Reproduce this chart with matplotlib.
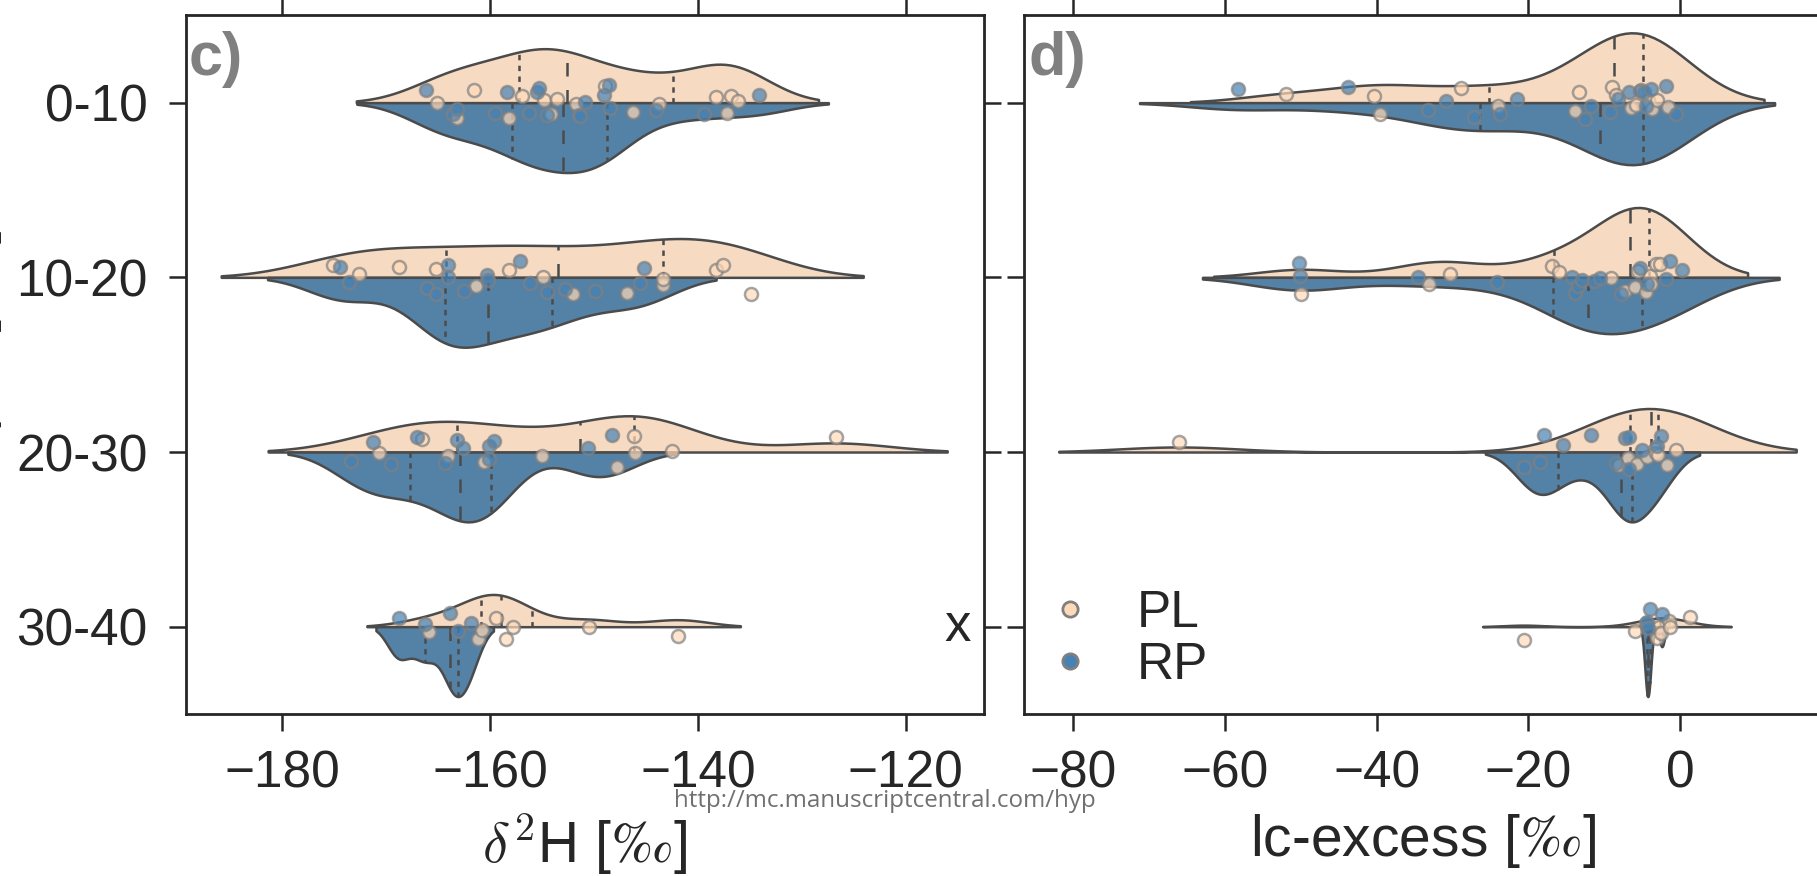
import numpy as np
import colorsys
import matplotlib
matplotlib.use("Agg")
import matplotlib.pyplot as plt
from matplotlib.colors import to_rgb
from matplotlib.lines import Line2D

plt.rcParams['font.family'] = ['Liberation Sans', 'DejaVu Sans']
plt.rcParams['mathtext.fontset'] = 'cm'

# ---------------- data ----------------
categories = ['0-10', '10-20', '20-30', '30-40']
groups = ['PL', 'RP']

d2h_PL = [
    [-165.1, -163.2, -161.6, -158.2, -156.9, -154.8, -154.2, -153.6, -151.7, -149.0,
     -146.3, -143.8, -138.3, -137.2, -136.8, -136.2],
    [-175.1, -172.6, -168.8, -165.2, -161.4, -158.2, -154.9, -152.0, -146.8, -143.4,
     -143.4, -138.3, -137.6, -134.9],
    [-170.7, -166.6, -164.1, -160.6, -155.0, -147.8, -146.2, -146.1, -142.5, -126.7],
    [-165.9, -161.2, -160.8, -159.4, -158.5, -157.8, -150.5, -141.9],
]
d2h_RP = [
    [-166.2, -163.6, -163.2, -159.5, -158.4, -156.3, -155.5, -155.3, -154.5, -151.5,
     -151.4, -150.9, -149.1, -148.6, -148.5, -144.0, -139.4, -134.1],
    [-174.5, -173.6, -166.1, -165.2, -164.1, -164.1, -162.5, -160.3, -160.2, -157.1,
     -156.2, -154.5, -152.8, -149.9, -145.6, -145.2],
    [-173.4, -171.3, -169.6, -167.1, -164.4, -163.2, -162.6, -160.1, -160.1, -159.6,
     -150.6, -148.3],
    [-168.8, -166.3, -163.9, -163.1, -161.9],
]
lcx_PL = [
    [-51.9, -40.3, -39.5, -28.9, -24.0, -13.9, -13.3, -9.0, -8.4, -6.5, -5.8, -5.1,
     -4.2, -3.7, -3.0, -1.6],
    [-50.0, -33.1, -30.3, -16.9, -16.0, -9.1, -7.2, -6.0, -5.5, -4.5, -4.0, -3.8,
     -3.2, -2.6],
    [-66.1, -8.0, -6.9, -5.7, -4.3, -3.3, -3.2, -2.9, -1.7, -0.5],
    [-20.6, -5.9, -3.0, -2.8, -2.5, -1.5, -1.3, 1.3],
]
lcx_RP = [
    [-58.3, -43.8, -33.2, -30.8, -27.2, -23.8, -21.5, -12.5, -11.7, -9.3, -8.2, -6.8,
     -5.3, -4.7, -4.5, -3.8, -1.8, -0.5],
    [-50.2, -50.1, -34.5, -24.2, -14.2, -13.8, -13.4, -12.9, -11.4, -10.6, -7.8, -5.3,
     -4.4, -1.9, -1.3, 0.3],
    [-20.6, -18.5, -18.0, -15.5, -11.8, -8.4, -7.2, -6.8, -6.8, -5.0, -3.0, -2.5],
    [-4.5, -4.3, -4.2, -4.0, -2.4],
]

d2h_ticks = [-180, -160, -140, -120]
lcx_ticks = [-80, -60, -40, -20, 0]

# ---------------- styling ----------------
base_colors = ['peachpuff', 'steelblue']


def desaturate(c, prop):
    h, l, s = colorsys.rgb_to_hls(*to_rgb(c))
    return colorsys.hls_to_rgb(h, l, s * prop)


fill_colors = [desaturate(c, 0.75) for c in base_colors]
lum = min(colorsys.rgb_to_hls(*c)[1] for c in fill_colors) * 0.6
line_gray = (lum, lum, lum)
LW = 1.8
BW = 0.4
CUT = 2
HALF = 0.4


def kde(values):
    v = np.asarray(values, float)
    bw = BW * v.std(ddof=1)
    grid = np.linspace(v.min() - CUT * bw, v.max() + CUT * bw, 100)
    z = (grid[:, None] - v[None, :]) / bw
    dens = np.exp(-0.5 * z ** 2).sum(1) / (len(v) * bw * np.sqrt(2 * np.pi))
    return grid, dens


def draw_panel(ax, pl_sets, rp_sets, seed):
    rng = np.random.default_rng(seed)
    for i, (pl, rp) in enumerate(zip(pl_sets, rp_sets)):
        g1, d1 = kde(pl)
        g2, d2 = kde(rp)
        sc = HALF / max(d1.max(), d2.max())
        d1 = d1 * sc
        d2 = d2 * sc
        ax.fill_between(g1, i - d1, i, facecolor=fill_colors[0], edgecolor=line_gray,
                        linewidth=LW, zorder=1)
        ax.fill_between(g2, i, i + d2, facecolor=fill_colors[1], edgecolor=line_gray,
                        linewidth=LW, zorder=1)
        for vals, g, d, sign in ((pl, g1, d1, -1), (rp, g2, d2, 1)):
            q = np.percentile(vals, [25, 50, 75])
            for k, qv in enumerate(q):
                h = d[np.abs(g - qv).argmin()]
                dash = [LW * 3] * 2 if k == 1 else [LW * 1.2] * 2
                ax.plot([qv, qv], [i, i + sign * h], color=line_gray, lw=LW,
                        dashes=dash, zorder=2)
    for j, sets in enumerate((pl_sets, rp_sets)):
        for i, vals in enumerate(sets):
            jit = rng.uniform(-0.1, 0.1, len(vals))
            ax.scatter(vals, i + jit, s=88, facecolor=base_colors[j], edgecolor='gray',
                       linewidth=1.8, alpha=0.7, zorder=3)


fig = plt.figure(figsize=(18.17, 8.76), dpi=100)
ax1 = fig.add_axes([0.1023, 0.1849, 0.4391, 0.7976])
ax2 = fig.add_axes([0.5635, 0.1849, 0.4391, 0.7976])

draw_panel(ax1, d2h_PL, d2h_RP, 1)
draw_panel(ax2, lcx_PL, lcx_RP, 2)

spine_col = '#262626'
for ax in (ax1, ax2):
    ax.set_ylim(3.5, -0.5)
    ax.set_yticks(range(len(categories)))
    for s in ax.spines.values():
        s.set_color(spine_col)
        s.set_linewidth(2.0)
    ax.tick_params(axis='both', direction='out', length=12, width=1.8, color=spine_col,
                   labelsize=37, labelcolor='#262626', top=True, right=True)
    ax.tick_params(axis='x', pad=13.5)
    ax.tick_params(axis='y', pad=15.5)

ax1.set_yticklabels(categories)
ax2.tick_params(labelleft=False)

ax1.set_xlim(-189.3, -112.5)
ax1.set_xticks(d2h_ticks)
ax2.set_xlim(-86.5, 18.67)
ax2.set_xticks(lcx_ticks)

ax1.set_xlabel(r'$\delta^2$H [$\perthousand$]', fontsize=41, labelpad=10, color='#262626')
ax2.set_xlabel(r'lc-excess [$\perthousand$]', fontsize=41, labelpad=10, color='#262626')
ax1.set_ylabel('Depth [cm]', fontsize=41, color='#262626')
ax1.yaxis.set_label_coords(-0.2304, 0.5)

ax1.text(0.004, 0.9153, 'c)', transform=ax1.transAxes, fontsize=44, fontweight='bold',
         color='#808080', ha='left', va='baseline')
ax2.text(0.0053, 0.9153, 'd)', transform=ax2.transAxes, fontsize=44, fontweight='bold',
         color='#808080', ha='left', va='baseline')
ax1.text(-115.0, 3, 'x', fontsize=38, color='#262626', ha='center', va='center')

handles = [Line2D([], [], ls='', marker='o', markersize=11, markerfacecolor=c,
                  markeredgecolor='gray', markeredgewidth=2) for c in base_colors]
ax2.legend(handles, groups, loc='center left', bbox_to_anchor=(0.0253, 0.107),
           frameon=False, fontsize=37, handlelength=1.0, handletextpad=0.8,
           borderpad=0, borderaxespad=0, labelspacing=0.05, labelcolor='#262626')

fig.text(885 / 1817, 1 - 801 / 876, 'http://mc.manuscriptcentral.com/hyp', fontsize=17.4,
         family=['Open Sans', 'DejaVu Sans'], color='#707070', ha='center', va='center',
         zorder=10)

fig.savefig('out.png', dpi=100)
